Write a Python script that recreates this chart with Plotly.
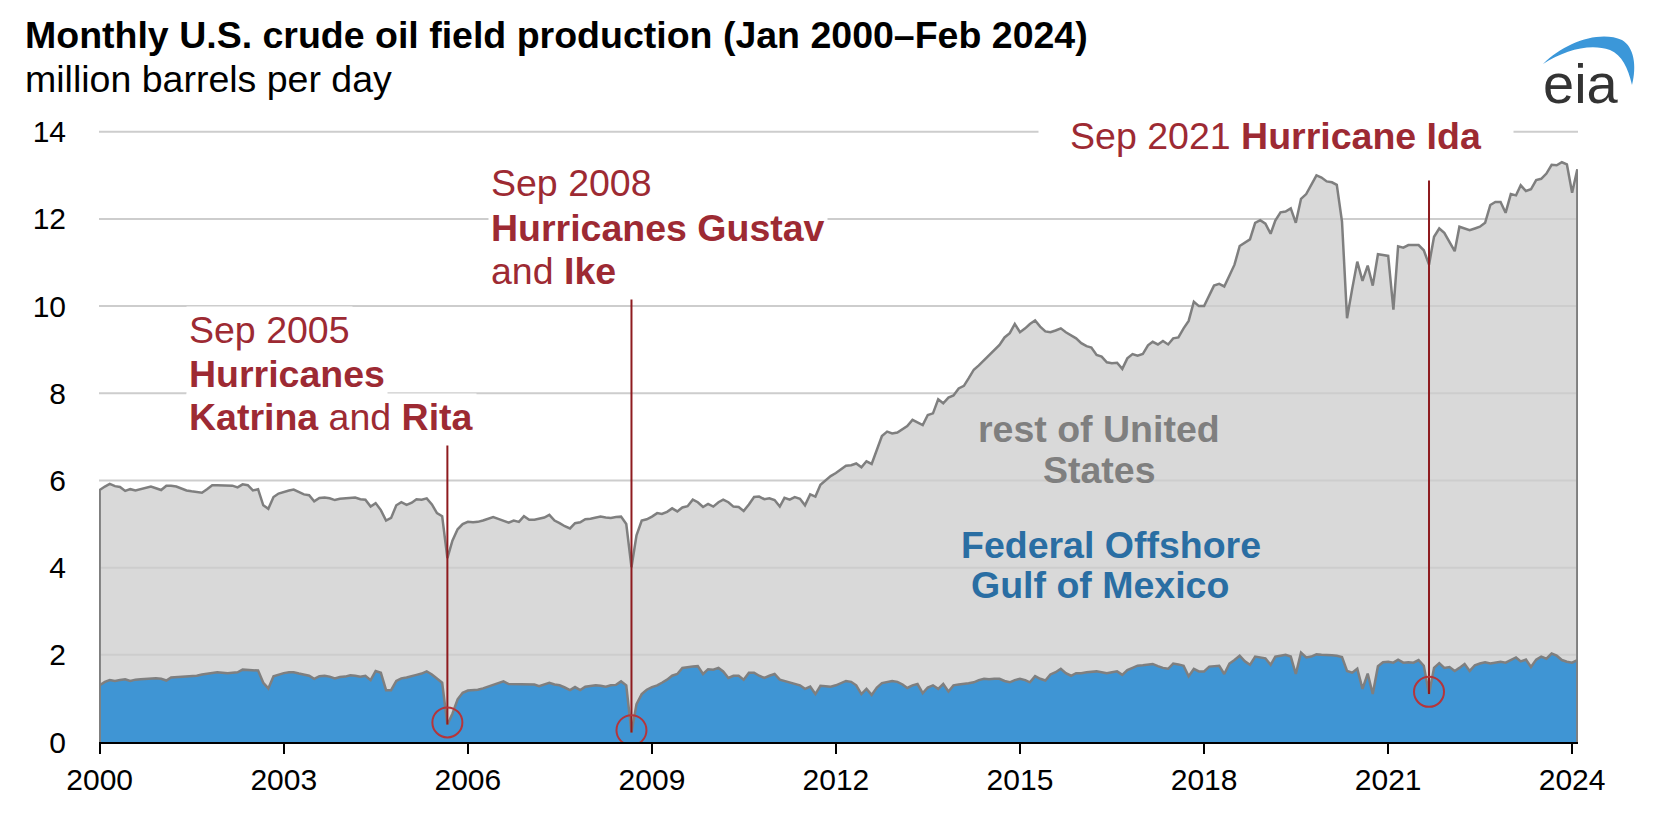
import plotly.graph_objects as go
import pandas as pd

# ---------------- data (million barrels per day), monthly Jan 2000 - Feb 2024 ----------------
start_month = "2000-01-01"

total_us = [
    5.78, 5.86, 5.92, 5.87, 5.85, 5.76, 5.80, 5.77, 5.80, 5.83, 5.86, 5.82,   # 2000
    5.78, 5.88, 5.88, 5.86, 5.82, 5.77, 5.75, 5.74, 5.72, 5.80, 5.89, 5.89,   # 2001
    5.89, 5.89, 5.88, 5.84, 5.91, 5.89, 5.77, 5.80, 5.43, 5.35, 5.62, 5.70,   # 2002
    5.74, 5.77, 5.79, 5.74, 5.68, 5.66, 5.52, 5.60, 5.61, 5.59, 5.55, 5.58,   # 2003
    5.59, 5.60, 5.61, 5.57, 5.56, 5.40, 5.48, 5.32, 5.08, 5.14, 5.43, 5.50,   # 2004
    5.44, 5.49, 5.57, 5.56, 5.59, 5.45, 5.25, 5.18, 4.22, 4.62, 4.88, 5.00,   # 2005
    5.05, 5.04, 5.05, 5.08, 5.12, 5.16, 5.12, 5.07, 5.03, 5.08, 5.05, 5.18,   # 2006
    5.10, 5.10, 5.12, 5.15, 5.21, 5.08, 5.02, 4.95, 4.90, 5.02, 5.04, 5.11,   # 2007
    5.12, 5.14, 5.17, 5.15, 5.14, 5.16, 5.17, 5.00, 4.01, 4.74, 5.08, 5.11,   # 2008
    5.17, 5.25, 5.23, 5.28, 5.36, 5.29, 5.38, 5.41, 5.56, 5.50, 5.39, 5.46,   # 2009
    5.40, 5.50, 5.56, 5.50, 5.40, 5.39, 5.30, 5.45, 5.62, 5.63, 5.57, 5.59,   # 2010
    5.55, 5.40, 5.60, 5.56, 5.62, 5.58, 5.43, 5.68, 5.63, 5.90, 6.00, 6.10,   # 2011
    6.17, 6.26, 6.34, 6.35, 6.39, 6.30, 6.44, 6.38, 6.70, 7.02, 7.12, 7.08,   # 2012
    7.10, 7.17, 7.25, 7.39, 7.33, 7.27, 7.50, 7.54, 7.86, 7.77, 7.90, 7.95,   # 2013
    8.11, 8.17, 8.34, 8.54, 8.64, 8.76, 8.88, 8.98, 9.11, 9.28, 9.38, 9.59,   # 2014
    9.40, 9.49, 9.59, 9.67, 9.53, 9.42, 9.40, 9.44, 9.49, 9.40, 9.33, 9.26,   # 2015
    9.15, 9.08, 9.05, 8.88, 8.84, 8.71, 8.69, 8.70, 8.56, 8.80, 8.90, 8.86,   # 2016
    8.90, 9.10, 9.18, 9.12, 9.20, 9.12, 9.26, 9.28, 9.49, 9.66, 10.10, 10.00, # 2017
    10.00, 10.25, 10.47, 10.51, 10.45, 10.70, 10.95, 11.38, 11.46, 11.53, 11.91, 11.97,  # 2018
    11.89, 11.66, 11.96, 12.15, 12.17, 12.24, 11.91, 12.46, 12.57, 12.80, 13.00, 12.95,  # 2019
    12.86, 12.84, 12.78, 11.94, 9.72, 10.40, 11.02, 10.58, 10.93, 10.47, 11.19, 11.17,   # 2020
    11.15, 9.92, 11.37, 11.34, 11.40, 11.40, 11.40, 11.28, 10.95, 11.59, 11.78, 11.68,   # 2021
    11.47, 11.26, 11.82, 11.78, 11.74, 11.78, 11.82, 11.91, 12.32, 12.39, 12.39, 12.14,  # 2022
    12.57, 12.54, 12.77, 12.64, 12.68, 12.89, 12.92, 13.04, 13.24, 13.23, 13.30, 13.25,  # 2023
    12.60, 13.14,                                                                          # 2024
]

federal_offshore_gom = [
    1.30, 1.38, 1.42, 1.40, 1.42, 1.44, 1.40, 1.43, 1.44, 1.45, 1.45, 1.46,   # 2000
    1.45, 1.41, 1.48, 1.49, 1.50, 1.51, 1.51, 1.52, 1.55, 1.57, 1.59, 1.60,   # 2001
    1.59, 1.58, 1.59, 1.60, 1.66, 1.65, 1.64, 1.64, 1.36, 1.23, 1.51, 1.55,   # 2002
    1.58, 1.60, 1.60, 1.57, 1.54, 1.52, 1.45, 1.51, 1.52, 1.50, 1.46, 1.49,   # 2003
    1.50, 1.53, 1.52, 1.50, 1.52, 1.42, 1.63, 1.59, 1.19, 1.19, 1.40, 1.46,   # 2004
    1.48, 1.52, 1.54, 1.57, 1.62, 1.55, 1.45, 1.36, 0.40, 0.65, 0.98, 1.13,   # 2005
    1.18, 1.19, 1.20, 1.23, 1.27, 1.31, 1.35, 1.39, 1.33, 1.33, 1.33, 1.33,   # 2006
    1.33, 1.32, 1.28, 1.33, 1.36, 1.32, 1.30, 1.25, 1.19, 1.26, 1.19, 1.27,   # 2007
    1.28, 1.30, 1.29, 1.27, 1.30, 1.31, 1.39, 1.30, 0.22, 0.87, 1.10, 1.20,   # 2008
    1.26, 1.30, 1.36, 1.43, 1.52, 1.56, 1.70, 1.72, 1.73, 1.74, 1.56, 1.67,   # 2009
    1.66, 1.70, 1.62, 1.47, 1.52, 1.52, 1.43, 1.59, 1.59, 1.52, 1.47, 1.52,   # 2010
    1.56, 1.43, 1.40, 1.38, 1.35, 1.30, 1.22, 1.27, 1.10, 1.29, 1.28, 1.27,   # 2011
    1.30, 1.36, 1.40, 1.38, 1.30, 1.10, 1.22, 1.08, 1.25, 1.35, 1.38, 1.40,   # 2012
    1.38, 1.32, 1.24, 1.30, 1.33, 1.12, 1.25, 1.30, 1.22, 1.33, 1.16, 1.30,   # 2013
    1.32, 1.33, 1.35, 1.37, 1.42, 1.45, 1.44, 1.45, 1.45, 1.40, 1.37, 1.42,   # 2014
    1.45, 1.42, 1.37, 1.51, 1.45, 1.41, 1.55, 1.60, 1.68, 1.58, 1.52, 1.58,   # 2015
    1.58, 1.60, 1.61, 1.62, 1.60, 1.58, 1.60, 1.62, 1.54, 1.65, 1.70, 1.75,   # 2016
    1.76, 1.78, 1.79, 1.74, 1.70, 1.68, 1.80, 1.78, 1.75, 1.51, 1.68, 1.62,   # 2017
    1.62, 1.73, 1.74, 1.75, 1.56, 1.80, 1.88, 1.98, 1.85, 1.77, 1.96, 1.94,   # 2018
    1.92, 1.77, 1.96, 1.98, 2.00, 1.96, 1.56, 2.05, 1.94, 1.96, 2.01, 2.00,   # 2019
    2.00, 1.99, 1.98, 1.95, 1.63, 1.59, 1.68, 1.22, 1.57, 1.10, 1.74, 1.83,   # 2020
    1.84, 1.82, 1.89, 1.82, 1.83, 1.82, 1.88, 1.75, 1.10, 1.70, 1.81, 1.70,   # 2021
    1.72, 1.63, 1.70, 1.79, 1.63, 1.76, 1.80, 1.83, 1.80, 1.82, 1.84, 1.82,   # 2022
    1.88, 1.94, 1.85, 1.89, 1.72, 1.89, 1.96, 1.91, 2.03, 1.98, 1.88, 1.84,   # 2023
    1.82, 1.88,                                                               # 2024
]

y_tick_values = [0, 2, 4, 6, 8, 10, 12, 14]
x_tick_years = [2000, 2003, 2006, 2009, 2012, 2015, 2018, 2021, 2024]

event_months = ["2005-09-01", "2008-09-01", "2021-09-01"]
event_line_tops = [6.8, 10.15, 12.88]

title_text = "<b>Monthly U.S. crude oil field production (Jan 2000\u2013Feb 2024)</b>"
subtitle_text = "million barrels per day"

# ---------------- layout geometry ----------------
# The page body has an 8px default margin, so the figure is 8px smaller than the window
BODY = 8
PAGE_W, PAGE_H = 1669, 827
PLOT_L, PLOT_R, PLOT_T, PLOT_B = 99, 1578, 123, 742      # plot area in page pixels
W, H = PAGE_W - BODY, PAGE_H - BODY
ML, MR = PLOT_L - BODY, PAGE_W - PLOT_R
MT, MB = PLOT_T - BODY, PAGE_H - PLOT_B
PW, PH = PLOT_R - PLOT_L, PLOT_B - PLOT_T
x_range = ["1999-12-28", "2024-02-05"]
y_range = [0, 14.2]


def px(x):
    return (x - PLOT_L) / PW


def py(y):
    return (PLOT_B - y) / PH


FONT = "Liberation Sans, Arial, Helvetica, sans-serif"
BIG = 37.5
GRAY_FILL = "#d9d9d9"
GRAY_LINE = "#7f7f7f"
GRID = "#cdcdcd"
BLUE_FILL = "#3f95d4"
BLUE_TEXT = "#2a6ea3"
RED_TEXT = "#9d2a33"
RED_LINE = "#8e1b1f"
RED_CIRCLE = "#b5353a"

dates = pd.date_range(start_month, periods=len(total_us), freq="MS")
gom_by_date = dict(zip(dates.strftime("%Y-%m-%d"), federal_offshore_gom))

fig = go.Figure()

# rest of US (total) area fill
fig.add_trace(go.Scatter(
    x=dates, y=total_us, mode="lines", fill="tozeroy",
    fillcolor=GRAY_FILL, line=dict(width=0), hoverinfo="skip"))

# gridlines drawn over the grey fill
gx, gy = [], []
for v in y_tick_values[1:]:
    gx += [x_range[0], x_range[1], None]
    gy += [v, v, None]
fig.add_trace(go.Scatter(x=gx, y=gy, mode="lines",
                         line=dict(color=GRID, width=2), hoverinfo="skip"))

# Federal Offshore Gulf of Mexico area
fig.add_trace(go.Scatter(
    x=dates, y=federal_offshore_gom, mode="lines", fill="tozeroy",
    fillcolor=BLUE_FILL, line=dict(color=GRAY_LINE, width=2.5), hoverinfo="skip"))

# total outline, including the vertical edges at both ends
fig.add_trace(go.Scatter(
    x=[dates[0]] + list(dates) + [dates[-1]],
    y=[0] + total_us + [0],
    mode="lines", line=dict(color=GRAY_LINE, width=2.5), hoverinfo="skip"))

shapes = []
for m, top in zip(event_months, event_line_tops):
    val = gom_by_date[m]
    shapes.append(dict(type="line", xref="x", yref="y", x0=m, x1=m, y0=val, y1=top,
                       line=dict(color=RED_LINE, width=2), layer="above"))
    shapes.append(dict(type="circle", xref="x", yref="y", xsizemode="pixel", ysizemode="pixel",
                       xanchor=m, yanchor=val + 0.05, x0=-15, x1=15, y0=-15, y1=15,
                       line=dict(color=RED_CIRCLE, width=2), layer="above"))

# eia logo swoosh
swoosh_pts = [
    ("M", [(1543, 64)]),
    ("C", [(1565, 42), (1600, 30), (1622, 40)]),
    ("C", [(1634, 47), (1637, 66), (1632, 85)]),
    ("C", [(1628, 68), (1622, 55), (1610, 50)]),
    ("C", [(1590, 43), (1565, 50), (1543, 64)]),
]
path = ""
for cmd, pts in swoosh_pts:
    path += cmd + " " + " ".join(f"{px(a):.5f},{py(b):.5f}" for a, b in pts) + " "
path += "Z"
shapes.append(dict(type="path", xref="paper", yref="paper", path=path,
                   fillcolor="#3b97d9", line=dict(width=0), layer="above"))

annotations = []


def add_text(text, x, y, size, color, xanchor="left", bg=None, width=None, align="left"):
    d = dict(text=text, xref="paper", yref="paper", x=px(x), y=py(y),
             xanchor=xanchor, yanchor="middle", showarrow=False, align=align,
             font=dict(family=FONT, size=size, color=color))
    if bg:
        d["bgcolor"] = bg
        d["borderpad"] = 2
    if width:
        d["width"] = width
    annotations.append(d)


add_text(title_text, 23, 35, BIG, "#000000")
add_text(subtitle_text, 23, 79, BIG, "#000000")
add_text("eia", 1581, 83, 56, "#333333", xanchor="center")

add_text("Sep 2005", 186, 330, BIG, RED_TEXT, bg="white")
add_text("<b>Hurricanes</b>", 186, 374, BIG, RED_TEXT, bg="white")
add_text("<b>Katrina</b> and <b>Rita</b>", 186, 417, BIG, RED_TEXT, bg="white")
add_text("Sep 2008", 488, 183, BIG, RED_TEXT, bg="white")
add_text("<b>Hurricanes Gustav</b>", 488, 228, BIG, RED_TEXT, bg="white")
add_text("and <b>Ike</b>", 488, 271, BIG, RED_TEXT, bg="white")
add_text("Sep 2021 <b>Hurricane Ida</b>", 1276, 136, BIG, RED_TEXT, xanchor="center",
         bg="white", width=470, align="center")

add_text("<b>rest of United</b>", 1099, 429, BIG, GRAY_LINE, xanchor="center")
add_text("<b>States</b>", 1099, 470, BIG, GRAY_LINE, xanchor="center")
add_text("<b>Federal Offshore</b>", 1111, 545, BIG, BLUE_TEXT, xanchor="center")
add_text("<b>Gulf of Mexico</b>", 1100, 585, BIG, BLUE_TEXT, xanchor="center")

fig.update_layout(
    width=W, height=H,
    margin=dict(l=ML, r=MR, t=MT, b=MB, pad=0),
    paper_bgcolor="white", plot_bgcolor="white",
    showlegend=False, hovermode=False,
    shapes=shapes, annotations=annotations,
    font=dict(family=FONT, color="#000000"),
    xaxis=dict(type="date", range=x_range,
               tickvals=[f"{y}-01-01" for y in x_tick_years],
               ticktext=[str(y) for y in x_tick_years],
               ticks="outside", ticklen=10, tickwidth=2, tickcolor="#000000",
               showline=True, linecolor="#000000", linewidth=2,
               showgrid=False, zeroline=False, layer="above traces",
               tickfont=dict(family=FONT, size=30, color="#000000")),
    yaxis=dict(range=y_range, tickvals=y_tick_values,
               ticktext=[str(v) for v in y_tick_values],
               showgrid=False, zeroline=False, showline=False, ticks="",
               ticklabelstandoff=32,
               tickfont=dict(family=FONT, size=30, color="#000000")),
)

fig.write_html("out.html")
